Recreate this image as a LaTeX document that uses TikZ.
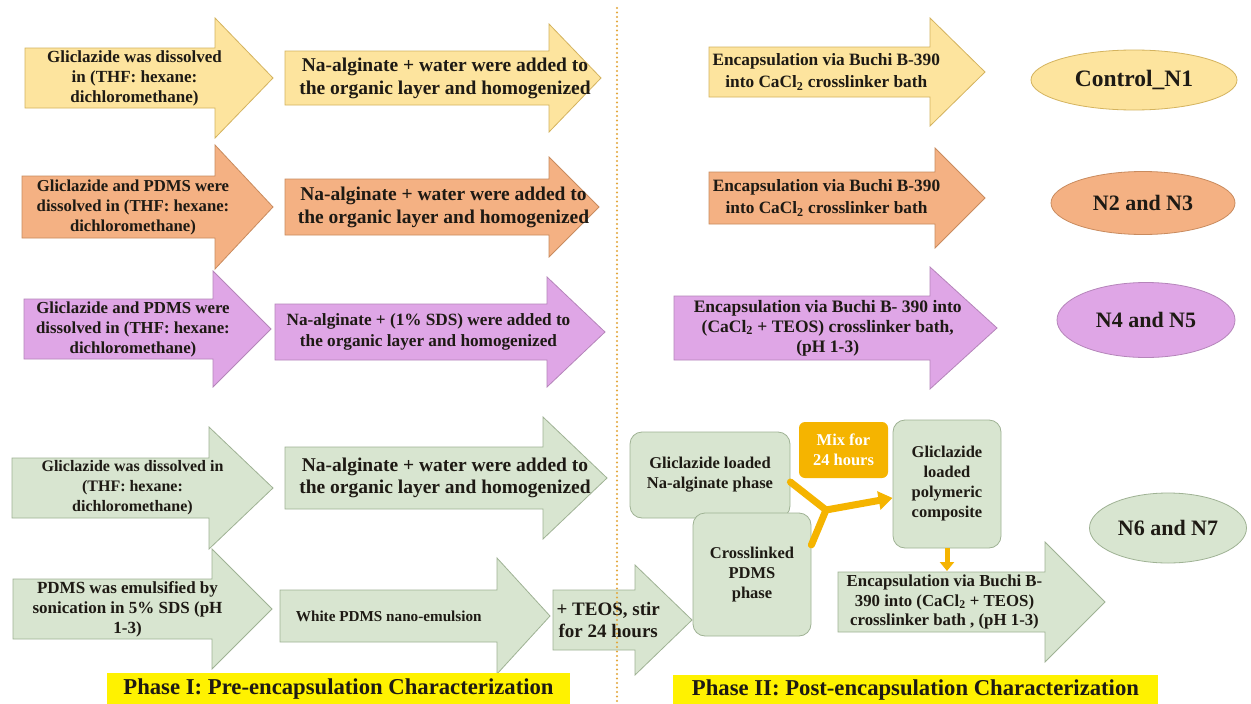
\documentclass[tikz,border=0pt]{standalone}
\usepackage{fontspec}
\setmainfont{Liberation Serif}
\usetikzlibrary{shapes.geometric,arrows.meta}
\definecolor{yf}{HTML}{FDE49E}
\definecolor{yd}{HTML}{D4B35E}
\definecolor{of}{HTML}{F4B183}
\definecolor{od}{HTML}{C98B5E}
\definecolor{pf}{HTML}{DFA6E6}
\definecolor{pd}{HTML}{B585BA}
\definecolor{gf}{HTML}{D8E5D0}
\definecolor{gd}{HTML}{9FB294}
\definecolor{gold}{HTML}{F5B400}
\definecolor{lab}{HTML}{FFF200}
\definecolor{dotc}{HTML}{E3A73C}
\definecolor{ink}{HTML}{1E1A14}
\newcommand\fs[2]{\bfseries\fontsize{#1pt}{#2pt}\selectfont}
% style, node options, x0, x head start, x tip, y centre, shaft half height, head half height, text
\newcommand\barrow[9]{%
 \path[#1] (#3,#6-#7) -- (#4,#6-#7) -- (#4,#6-#8) -- (#5,#6) -- (#4,#6+#8) -- (#4,#6+#7) -- (#3,#6+#7) -- cycle;
 \node[txt, #2] at ({0.5*#3+0.25*#4+0.25*#5},#6) {#9};}
\begin{document}
\begin{tikzpicture}[x=1pt,y=-1pt,
 txt/.style={font=\fs{17}{20}, align=center, text=ink, inner sep=0pt},
 ya/.style={fill=yf, draw=yd, line width=0.8pt},
 oa/.style={fill=of, draw=od, line width=0.8pt},
 pa/.style={fill=pf, draw=pd, line width=0.8pt},
 ga/.style={fill=gf, draw=gd, line width=0.8pt},
 ell/.style={ellipse, line width=0.8pt, inner sep=0pt, font=\fs{22}{26}, text=ink},
 rbox/.style={fill=gf, draw=gd, line width=0.8pt, rounded corners=12pt, align=center, font=\fs{16.5}{20}, text=ink, inner sep=0pt},
 conn/.style={draw=gold, line width=7pt},
 lbl/.style={fill=lab, inner sep=0pt, font=\fs{22.7}{26}, text=ink}
]
\useasboundingbox[fill=white] (0,0) rectangle (1251,704);
% Row 1
\barrow{ya}{name=a1}{25}{215}{273}{78}{30}{60}{Gliclazide was dissolved\\in (THF: hexane:\\dichloromethane)}
\barrow{ya}{name=b1, xshift=15pt, font=\fs{19.5}{23}}{285}{549}{601}{78}{27}{54}{Na-alginate + water were added to\\the organic layer and homogenized}
\barrow{ya}{name=c1, xshift=-7pt, font=\fs{17.3}{22}}{709}{930}{985}{72}{25}{54}{Encapsulation via Buchi B-390\\into CaCl\textsubscript{2} crosslinker bath}
\node[ell, fill=yf, draw=yd, minimum width=206pt, minimum height=60pt, font=\fs{23.5}{26}] (e1) at (1134,80) {Control\_N1};
% Row 2
\barrow{oa}{name=a2, font=\fs{16.7}{20}}{22}{215}{273}{207}{31}{62}{Gliclazide and PDMS were\\dissolved in (THF: hexane:\\dichloromethane)}
\barrow{oa}{name=b2, xshift=14pt, font=\fs{19.5}{23}}{285}{549}{599}{207}{28}{50}{Na-alginate + water were added to\\the organic layer and homogenized}
\barrow{oa}{name=c2, xshift=-8pt, font=\fs{17.3}{22}}{709}{935}{985}{198}{26}{50}{Encapsulation via Buchi B-390\\into CaCl\textsubscript{2} crosslinker bath}
\node[ell, fill=of, draw=od, minimum width=184pt, minimum height=63pt] (e2) at (1143,203) {N2 and N3};
% Row 3
\barrow{pa}{name=a3, font=\fs{16.8}{20}}{24}{213}{271}{329}{30}{58}{Gliclazide and PDMS were\\dissolved in (THF: hexane:\\dichloromethane)}
\barrow{pa}{name=b3, xshift=3pt, font=\fs{17.2}{21}}{275}{547}{605}{332}{28}{55}{Na-alginate + (1\% SDS) were added to\\the organic layer and homogenized}
\barrow{pa}{name=c3, xshift=9pt, font=\fs{17.5}{20}}{674}{930}{997}{328}{32}{61}{Encapsulation via Buchi B- 390 into\\(CaCl\textsubscript{2} + TEOS) crosslinker bath,\\(pH 1-3)}
\node[ell, fill=pf, draw=pd, minimum width=178pt, minimum height=75pt] (e3) at (1146,320) {N4 and N5};
% Row 4
\barrow{ga}{name=a4, xshift=6pt, font=\fs{16}{20}}{12}{209}{273}{488}{30}{61}{Gliclazide was dissolved in\\(THF: hexane:\\dichloromethane)}
\barrow{ga}{name=b4, xshift=15pt, font=\fs{19.5}{22}}{285}{543}{607}{478}{31}{61}{Na-alginate + water were added to\\the organic layer and homogenized}
% Row 5
\barrow{ga}{name=a5}{13}{212}{272}{609}{30}{60}{PDMS was emulsified by\\sonication in 5\% SDS (pH\\1-3)}
\barrow{ga}{name=b5, xshift=-13pt, font=\fs{15.2}{18}}{280}{497}{550}{616}{26}{58}{White PDMS nano-emulsion}
\barrow{ga}{name=c5, font=\fs{19}{22}}{553}{635}{692}{620}{30}{55}{+ TEOS, stir\\for 24 hours}
\barrow{ga}{name=c4, xshift=-12pt, font=\fs{16.8}{19.5}}{838}{1045}{1105}{602}{30}{60}{Encapsulation via Buchi B-\\390 into (CaCl\textsubscript{2} + TEOS)\\crosslinker bath , (pH 1-3)}
% right-hand boxes
\node[rbox, minimum width=160pt, minimum height=86pt] (gna) at (710,475) {Gliclazide loaded\\Na-alginate phase};
\node[fill=gold, rounded corners=6pt, minimum width=89pt, minimum height=56pt, align=center, inner sep=0pt, font=\fs{16.5}{20}, text=white] (mix) at (843.5,450) {Mix for\\24 hours};
\node[rbox, minimum width=108pt, minimum height=128pt] (comp) at (947,484) {Gliclazide\\loaded\\polymeric\\composite};
\node[rbox, minimum width=118pt, minimum height=123pt] (xl) at (752,574.5) {Crosslinked\\PDMS\\phase};
\node[ell, fill=gf, draw=gd, minimum width=157pt, minimum height=70pt] (e4) at (1168,528) {N6 and N7};
% connectors
\coordinate (jn) at (826,510);
\coordinate (c4top) at (947,571);
\draw[conn, line cap=round] ([yshift=-7pt]gna.east) -- (jn);
\draw[conn, line cap=round] ([yshift=29.5pt]xl.east) -- (jn);
\draw[conn, -{Triangle[length=14pt,width=18pt]}] (jn) -- ([yshift=-14pt]comp.west);
\draw[draw=gold, line width=5pt, -{Triangle[length=9pt,width=14pt]}] (comp.south) -- (c4top);
% divider
\coordinate (dtop) at (617,8);
\coordinate (dbot) at (617,704);
\draw[dotc, line width=2.4pt, line cap=round, dash pattern=on 0pt off 4.5pt] (dtop) -- (dbot);
% phase labels
\node[lbl, minimum width=463pt, minimum height=32pt] (ph1) at (338.5,689) {Phase I: Pre-encapsulation Characterization};
\node[lbl, minimum width=485pt, minimum height=30pt] (ph2) at (915.5,690) {Phase II: Post-encapsulation Characterization};
\end{tikzpicture}
\end{document}
